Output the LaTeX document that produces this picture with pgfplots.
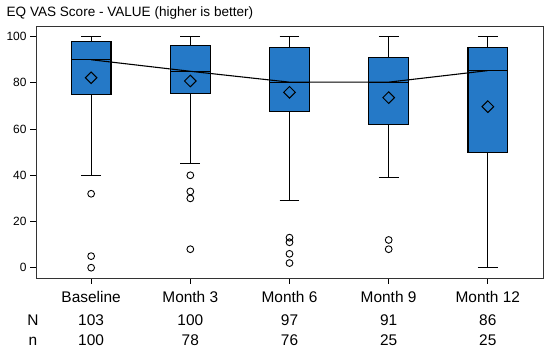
\documentclass[border=0pt]{standalone}
\usepackage{fontspec}
\setmainfont{Liberation Sans}
\usepackage{pgfplots}
\pgfplotsset{compat=1.18}
\usepgfplotslibrary{statistics}
\definecolor{boxblue}{RGB}{37,121,199}
\begin{document}
\begin{tikzpicture}
\path[use as bounding box] (0,0) rectangle (550bp,352bp);
\begin{axis}[
  at={(36bp,74bp)}, anchor=south west,
  scale only axis, width=507bp, height=252bp,
  xmin=-0.556, xmax=4.556, ymin=-4.46, ymax=104.6,
  xtick={0,1,2,3,4}, xticklabels={},
  ytick={0,20,40,60,80,100},
  tick align=outside, major tick length=6bp,
  xtick pos=bottom, ytick pos=left,
  axis line style={line width=0.9pt, black!80},
  tick style={line width=0.9pt, black},
  tick label style={font=\fontsize{12}{14}\selectfont},
  /pgf/number format/assume math mode=true,
  clip=false,
  boxplot/draw direction=y,
  boxplot/box extend=0.4,
  boxplot/whisker extend=0.2,
]
\pgfplotsset{mybox/.style={fill=boxblue, draw=black, line width=1.1pt, mark=o, mark size=3.4bp, mark options={draw=black, fill=none, line width=0.9pt}}}
\addplot[mybox, boxplot prepared={draw position=0, median=90, upper quartile=97.7, lower quartile=75, upper whisker=100, lower whisker=40}]
  table[row sep=\\, y index=0] {32\\ 5\\ 0\\};
\addplot[mybox, boxplot prepared={draw position=1, median=85, upper quartile=96.2, lower quartile=75.2, upper whisker=100, lower whisker=45}]
  table[row sep=\\, y index=0] {40\\ 33\\ 30\\ 8\\};
\addplot[mybox, boxplot prepared={draw position=2, median=80.3, upper quartile=95.2, lower quartile=67.7, upper whisker=100, lower whisker=29}]
  table[row sep=\\, y index=0] {13\\ 11\\ 6\\ 2\\};
\addplot[mybox, boxplot prepared={draw position=3, median=80.3, upper quartile=91, lower quartile=62, upper whisker=100, lower whisker=39}]
  table[row sep=\\, y index=0] {12\\ 8\\};
\addplot[mybox, boxplot prepared={draw position=4, median=85.3, upper quartile=95.2, lower quartile=50, upper whisker=100, lower whisker=0}]
  coordinates {};
\addplot[black, line width=1.1pt, mark=none] coordinates {(0,90) (1,85) (2,80.3) (3,80.3) (4,85.3)};
\addplot[only marks, mark=square, mark size=4.1bp, mark options={rotate=45, draw=black, fill=none, line width=1pt}]
  coordinates {(0,82.2) (1,80.8) (2,75.9) (3,73.6) (4,69.7)};
\end{axis}
\node[anchor=base west, inner sep=0pt] at (6.5bp,335bp) {\fontsize{13.6}{15}\selectfont EQ VAS Score - VALUE (higher is better)};
\foreach \x/\a/\b/\c in {91.1/Baseline/103/100, 190.3/Month 3/100/78, 289.5/Month 6/97/76, 388.6/Month 9/91/25, 487.8/Month 12/86/25}{
  \node[anchor=base, inner sep=0pt] at (\x bp,49bp) {\fontsize{15.5}{17}\selectfont \a};
  \node[anchor=base, inner sep=0pt] at (\x bp,27bp) {\fontsize{15.5}{17}\selectfont \b};
  \node[anchor=base, inner sep=0pt] at (\x bp,7bp) {\fontsize{15.5}{17}\selectfont \c};
}
\node[anchor=base, inner sep=0pt] at (33bp,27bp) {\fontsize{15.5}{17}\selectfont N};
\node[anchor=base, inner sep=0pt] at (33bp,7bp) {\fontsize{15.5}{17}\selectfont n};
\end{tikzpicture}
\end{document}
